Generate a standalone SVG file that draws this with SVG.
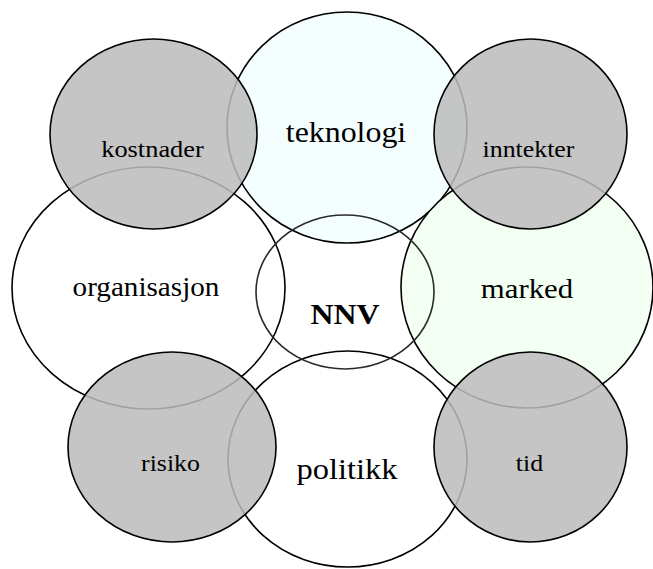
<svg xmlns="http://www.w3.org/2000/svg" width="653" height="569" viewBox="0 0 653 569">
  <style>
    .ring { stroke: #000; stroke-width: 1.6; }
    .plain { fill: #ffffff; }
    .tech { fill: #f4feff; }
    .market { fill: #f3fff3; }
    .core { fill: none; stroke: #2a2a2a; }
    .factor { fill: #bcbcbc; fill-opacity: 0.86; }
    .lbl { fill: #000; text-anchor: middle; }
    .small { font-size: 23.5px; }
    .bold { font-weight: bold; }
  </style>

  <rect width="653" height="569" fill="#ffffff"/>

  <!-- main domains -->
  <g id="organisasjon">
    <ellipse class="ring plain" cx="148.5" cy="288" rx="136.5" ry="121"/>
  </g>
  <g id="teknologi">
    <ellipse class="ring tech" cx="347" cy="127.5" rx="120" ry="115.5"/>
  </g>
  <g id="marked">
    <ellipse class="ring market" cx="527" cy="287.5" rx="126" ry="120.5"/>
  </g>
  <g id="politikk">
    <ellipse class="ring plain" cx="347.5" cy="459" rx="119.5" ry="108"/>
  </g>
  <g id="nnv">
    <ellipse class="ring core" cx="345" cy="292" rx="89" ry="77"/>
  </g>

  <!-- translucent factor circles -->
  <g id="kostnader">
    <ellipse class="ring factor" cx="153.5" cy="134" rx="103.5" ry="95"/>
  </g>
  <g id="inntekter">
    <ellipse class="ring factor" cx="530.5" cy="134" rx="96.5" ry="95"/>
  </g>
  <g id="risiko">
    <ellipse class="ring factor" cx="172" cy="447" rx="104" ry="95"/>
  </g>
  <g id="tid">
    <ellipse class="ring factor" cx="530.5" cy="447" rx="96.5" ry="95"/>
  </g>

  <!-- labels -->
  <g id="labels" font-family="Liberation Serif, Times New Roman, serif">
    <text class="lbl" font-size="26.5" transform="translate(146 296) scale(1.1 1)">organisasjon</text>
    <text class="lbl" font-size="29" transform="translate(346 142) scale(1.1 1)">teknologi</text>
    <text class="lbl" font-size="28" transform="translate(527 298) scale(1.1 1)">marked</text>
    <text class="lbl" font-size="29.5" transform="translate(347 479) scale(1.1 1)">politikk</text>
    <text class="lbl bold" font-size="29" transform="translate(345 324) scale(1.1 1)">NNV</text>
    <text class="lbl" font-size="24" transform="translate(152.5 157) scale(1.1 1)">kostnader</text>
    <text class="lbl small" transform="translate(528.5 157) scale(1.1 1)">inntekter</text>
    <text class="lbl small" transform="translate(170.5 471) scale(1.1 1)">risiko</text>
    <text class="lbl small" transform="translate(529.5 471) scale(1.1 1)">tid</text>
  </g>

  <g id="connectors"/>
</svg>
